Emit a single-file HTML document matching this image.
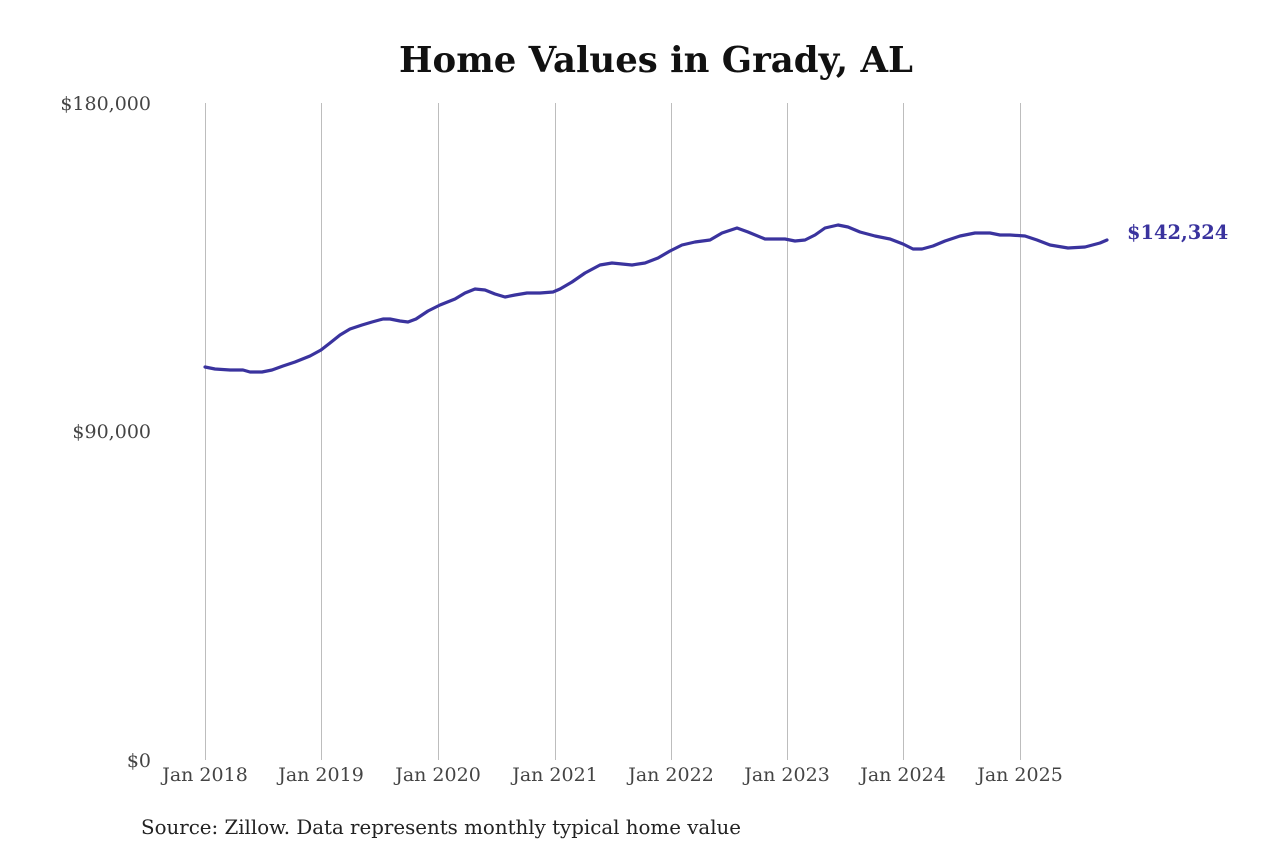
<!DOCTYPE html>
<html><head><meta charset="utf-8"><style>
body{margin:0;background:#fff;}
svg text{font-family:"DejaVu Serif","Liberation Serif",serif;}
</style></head><body>
<svg width="1280" height="853" viewBox="0 0 1280 853" xmlns="http://www.w3.org/2000/svg">
<rect width="1280" height="853" fill="#fff"/>
<text x="656" y="72" text-anchor="middle" font-size="35.5" font-weight="bold" fill="#111" textLength="514" lengthAdjust="spacingAndGlyphs">Home Values in Grady, AL</text>
<g stroke="#bdbdbd" stroke-width="1">
<line x1="205.5" y1="103" x2="205.5" y2="760"/>
<line x1="321.5" y1="103" x2="321.5" y2="760"/>
<line x1="438.5" y1="103" x2="438.5" y2="760"/>
<line x1="555.5" y1="103" x2="555.5" y2="760"/>
<line x1="671.5" y1="103" x2="671.5" y2="760"/>
<line x1="787.5" y1="103" x2="787.5" y2="760"/>
<line x1="903.5" y1="103" x2="903.5" y2="760"/>
<line x1="1020.5" y1="103" x2="1020.5" y2="760"/>
</g>
<g font-size="19" fill="#444" text-anchor="end">
<text x="151" y="110">$180,000</text>
<text x="151" y="438">$90,000</text>
<text x="151" y="767">$0</text>
</g>
<g font-size="19" fill="#444" text-anchor="middle">
<text x="205" y="781">Jan 2018</text>
<text x="321" y="781">Jan 2019</text>
<text x="438" y="781">Jan 2020</text>
<text x="555" y="781">Jan 2021</text>
<text x="671" y="781">Jan 2022</text>
<text x="787" y="781">Jan 2023</text>
<text x="903" y="781">Jan 2024</text>
<text x="1020" y="781">Jan 2025</text>
</g>
<polyline fill="none" stroke="#3a339e" stroke-width="3.2" stroke-linejoin="round" stroke-linecap="round" points="205,367 215,369 230,370 243,370 250,372 262,372 272,370 283,366 295,362 310,356 321,350 330,343 340,335 350,329 362,325 372,322 383,319 390,319 400,321 408,322 416,319 428,311 440,305 455,299 465,293 475,289 485,290 495,294 505,297 515,295 527,293 540,293 553,292 560,289 572,282 585,273 600,265 612,263 622,264 632,265 645,263 658,258 670,251 682,245 695,242 710,240 722,233 737,228 748,232 765,239 785,239 795,241 805,240 815,235 825,228 838,225 848,227 860,232 875,236 890,239 903,244 913,249 922,249 933,246 945,241 960,236 975,233 990,233 1000,235 1010,235 1025,236 1037,240 1050,245 1068,248 1085,247 1100,243 1107,240"/>
<text x="1127" y="239" font-size="19.4" font-weight="bold" fill="#3a339e">$142,324</text>
<text x="141" y="834" font-size="19.8" fill="#222" textLength="600" lengthAdjust="spacingAndGlyphs">Source: Zillow. Data represents monthly typical home value</text>
</svg>
</body></html>
